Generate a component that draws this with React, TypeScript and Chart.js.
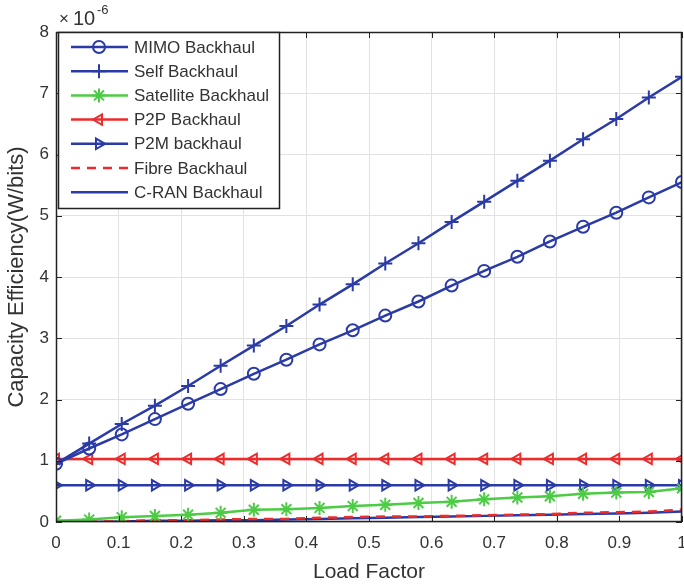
import React, { useEffect, useRef } from "react";
import { Chart, registerables } from "chart.js";
import { drawPoint } from "chart.js/helpers";

Chart.register(...registerables);

const loadFactor = [0, 0.053, 0.105, 0.158, 0.211, 0.263, 0.316, 0.368, 0.421, 0.474, 0.526, 0.579, 0.632, 0.684, 0.737, 0.789, 0.842, 0.895, 0.947, 1];
const mimo = [0.95, 1.2, 1.43, 1.68, 1.93, 2.17, 2.42, 2.65, 2.9, 3.13, 3.37, 3.6, 3.86, 4.1, 4.33, 4.58, 4.82, 5.05, 5.3, 5.55];
const self = [0.95, 1.28, 1.6, 1.9, 2.22, 2.55, 2.88, 3.2, 3.55, 3.88, 4.22, 4.55, 4.9, 5.23, 5.57, 5.9, 6.25, 6.58, 6.93, 7.27];
const satellite = [0.02, 0.04, 0.077, 0.098, 0.12, 0.15, 0.2, 0.21, 0.23, 0.26, 0.28, 0.31, 0.33, 0.37, 0.4, 0.42, 0.46, 0.48, 0.49, 0.55];
const p2p = [1.03, 1.03, 1.03, 1.03, 1.03, 1.03, 1.03, 1.03, 1.03, 1.03, 1.03, 1.03, 1.03, 1.03, 1.03, 1.03, 1.03, 1.03, 1.03, 1.03];
const p2m = [0.6, 0.6, 0.6, 0.6, 0.6, 0.6, 0.6, 0.6, 0.6, 0.6, 0.6, 0.6, 0.6, 0.6, 0.6, 0.6, 0.6, 0.6, 0.6, 0.6];
const fibre = [0, 0.01, 0.01, 0.03, 0.03, 0.04, 0.05, 0.05, 0.07, 0.08, 0.09, 0.09, 0.1, 0.11, 0.12, 0.13, 0.15, 0.16, 0.17, 0.2];
const cran = [0, 0, 0.01, 0.02, 0.02, 0.03, 0.03, 0.04, 0.05, 0.06, 0.07, 0.08, 0.09, 0.1, 0.11, 0.12, 0.13, 0.14, 0.15, 0.17];

const seriesNames = ["MIMO Backhaul", "Self Backhaul", "Satellite Backhaul", "P2P Backhaul", "P2M backhaul", "Fibre Backhaul", "C-RAN Backhaul"];
const xTicks = [0, 0.1, 0.2, 0.3, 0.4, 0.5, 0.6, 0.7, 0.8, 0.9, 1];
const yTicks = [0, 1, 2, 3, 4, 5, 6, 7, 8];

const BLUE = "#2a3aa6";
const RED = "#ee2b2b";
const GREEN = "#4ccc44";
const TEXT = "#333";
const FONT = "'Liberation Sans', Arial, sans-serif";

const pts = (ys: number[]) => ys.map((y, i) => ({ x: loadFactor[i], y }));

const frame = {
  id: "frame",
  afterDatasetsDraw(chart: any) {
    const { ctx, chartArea: a, scales } = chart;
    ctx.save();
    ctx.strokeStyle = "#222";
    ctx.lineWidth = 1.5;
    ctx.strokeRect(a.left + 0.5, a.top + 0.5, a.right - a.left - 1, a.bottom - a.top - 1);
    ctx.lineWidth = 1;
    ctx.beginPath();
    xTicks.forEach((t) => {
      const x = Math.round(scales.x.getPixelForValue(t)) + 0.5;
      ctx.moveTo(x, a.bottom); ctx.lineTo(x, a.bottom - 6);
      ctx.moveTo(x, a.top); ctx.lineTo(x, a.top + 6);
    });
    yTicks.forEach((t) => {
      const y = Math.round(scales.y.getPixelForValue(t)) + 0.5;
      ctx.moveTo(a.left, y); ctx.lineTo(a.left + 6, y);
      ctx.moveTo(a.right, y); ctx.lineTo(a.right - 6, y);
    });
    ctx.stroke();
    // multiplier
    ctx.fillStyle = TEXT;
    ctx.textBaseline = "alphabetic";
    ctx.textAlign = "left";
    ctx.font = `17px ${FONT}`;
    ctx.fillText("\u00d7", 59, 24);
    ctx.font = `20px ${FONT}`;
    ctx.fillText("10", 73, 25);
    ctx.font = `13px ${FONT}`;
    ctx.fillText("-6", 97, 14);

    // legend
    const lx = 58, ly = 32, lw = 221, lh = 176;
    ctx.fillStyle = "#fff";
    ctx.fillRect(lx, ly, lw, lh);
    ctx.strokeStyle = "#222";
    ctx.lineWidth = 1.5;
    ctx.strokeRect(lx + 0.5, ly + 0.5, lw, lh);
    chart.data.datasets.forEach((ds: any, i: number) => {
      const cy = 47 + i * 24.2;
      ctx.save();
      ctx.strokeStyle = ds.borderColor;
      ctx.lineWidth = ds.borderWidth;
      ctx.setLineDash(ds.borderDash || []);
      ctx.beginPath();
      ctx.moveTo(71, cy);
      ctx.lineTo(128, cy);
      ctx.stroke();
      ctx.restore();
      if (ds.pointStyle && ds.pointRadius > 0) {
        ctx.save();
        ctx.strokeStyle = ds.borderColor;
        ctx.fillStyle = "rgba(0,0,0,0)";
        ctx.lineWidth = ds.pointBorderWidth;
        drawPoint(ctx, { pointStyle: ds.pointStyle, rotation: ds.pointRotation || 0, radius: ds.pointRadius, borderWidth: ds.pointBorderWidth } as any, 99, cy);
        ctx.restore();
      }
      ctx.fillStyle = TEXT;
      ctx.font = `17px ${FONT}`;
      ctx.textBaseline = "middle";
      ctx.fillText(ds.label, 134, cy + 1);
    });
    ctx.restore();
  },
};

export default function App() {
  const ref = useRef<HTMLCanvasElement>(null);
  useEffect(() => {
    document.body.style.margin = "0";
    const mk = (label: string, data: number[], color: string, style: any, rot = 0, extra: any = {}) => ({
      label,
      data: pts(data),
      borderColor: color,
      backgroundColor: "rgba(0,0,0,0)",
      borderWidth: 2.5,
      pointStyle: style,
      pointRadius: style ? 6 : 0,
      pointRotation: rot,
      pointBorderWidth: 2,
      pointBorderColor: color,
      pointBackgroundColor: "rgba(0,0,0,0)",
      tension: 0,
      ...extra,
    });
    const chart = new Chart(ref.current!, {
      type: "line",
      data: {
        datasets: [
          mk(seriesNames[0], mimo, BLUE, "circle"),
          mk(seriesNames[1], self, BLUE, "cross", 0, { pointRadius: 7 }),
          mk(seriesNames[2], satellite, GREEN, "star", 0, { pointRadius: 7 }),
          mk(seriesNames[3], p2p, RED, "triangle", -90),
          mk(seriesNames[4], p2m, BLUE, "triangle", 90),
          mk(seriesNames[5], fibre, RED, false, 0, { borderDash: [9, 7] }),
          mk(seriesNames[6], cran, BLUE, false),
        ] as any,
      },
      options: {
        animation: false,
        responsive: false,
        maintainAspectRatio: false,
        layout: { autoPadding: false, padding: { left: 0, top: 32, right: 2, bottom: 0 } },
        plugins: { legend: { display: false }, tooltip: { enabled: false } },
        scales: {
          x: {
            type: "linear",
            min: 0,
            max: 1,
            afterFit: (s: any) => { s.height = 65; s.paddingLeft = 0; s.paddingRight = 0; },
            afterBuildTicks: (s: any) => { s.ticks = xTicks.map((v) => ({ value: v })); },
            ticks: {
              color: TEXT,
              font: { family: FONT, size: 17 },
              padding: 11,
              maxRotation: 0,
              callback: (v: any) => String(v),
            },
            grid: { color: "#e2e2e2", drawTicks: false },
            border: { display: false },
            title: { display: true, text: "Load Factor", color: TEXT, font: { family: FONT, size: 21 }, padding: { top: 0, bottom: 2 } },
          },
          y: {
            type: "linear",
            min: 0,
            max: 8,
            afterFit: (s: any) => { s.width = 56; s.paddingTop = 0; s.paddingBottom = 0; },
            afterBuildTicks: (s: any) => { s.ticks = yTicks.map((v) => ({ value: v })); },
            ticks: {
              color: TEXT,
              font: { family: FONT, size: 17 },
              padding: 7,
              callback: (v: any) => String(v),
            },
            grid: { color: "#e2e2e2", drawTicks: false },
            border: { display: false },
            title: { display: true, text: "Capacity Efficiency(W/bits)", color: TEXT, font: { family: FONT, size: 22 }, padding: { top: 4, bottom: 0 } },
          },
        },
      },
      plugins: [frame],
    } as any);
    return () => chart.destroy();
  }, []);
  return (
    <div style={{ position: "absolute", left: 0, top: 0, width: 684, height: 587, background: "#fff" }}>
      <canvas ref={ref} width={684} height={587} />
    </div>
  );
}
